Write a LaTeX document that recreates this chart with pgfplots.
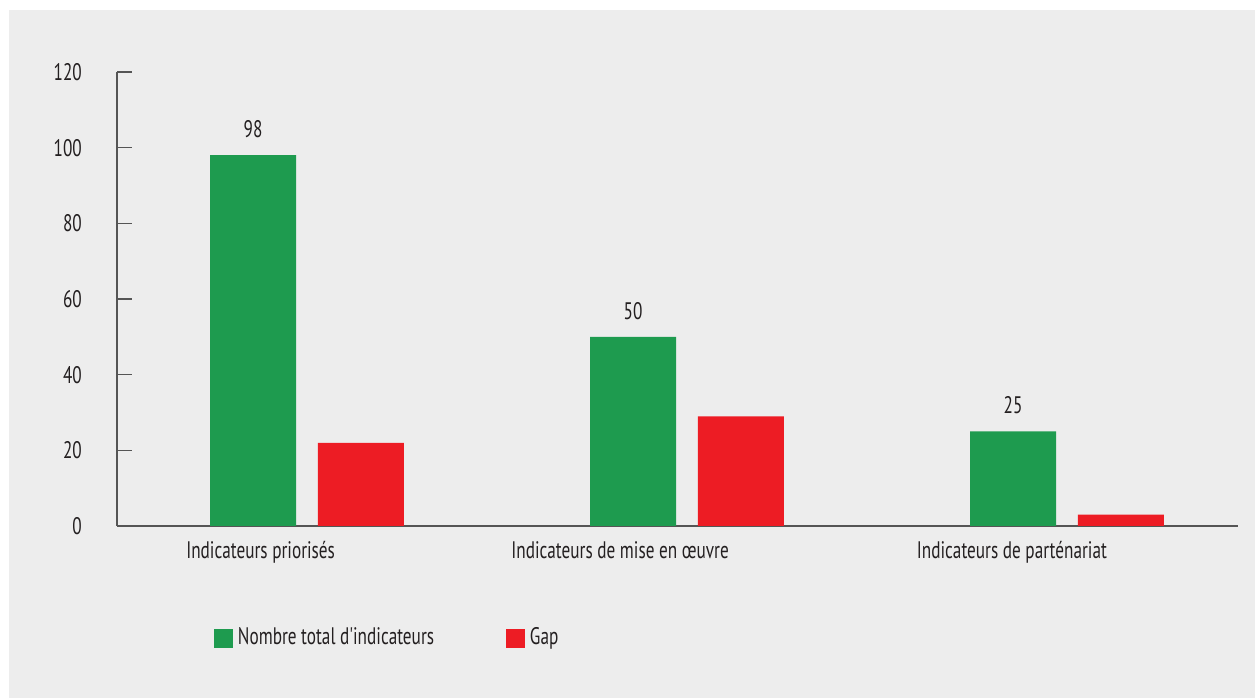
\documentclass[border=0pt]{standalone}
\usepackage{pgfplots}
\pgfplotsset{compat=1.18}
\usepackage{fontspec}
\setmainfont{PT Sans}[FakeStretch=0.72, Ligatures=TeXOff]
\definecolor{bggray}{HTML}{EDEDED}
\definecolor{bargreen}{HTML}{1E9B4F}
\definecolor{barred}{HTML}{ED1C24}
\definecolor{txt}{HTML}{231F20}
\definecolor{axcol}{HTML}{555555}
\begin{document}
\fontsize{24}{28}\selectfont
\begin{tikzpicture}
\path[use as bounding box] (0,0) rectangle (1255bp,698bp);
\fill[white] (0,0) rectangle (1255bp,698bp);
\fill[bggray] (9bp,0) rectangle (1255bp,688bp);
\begin{axis}[
  scale only axis,
  width=1121bp, height=454bp,
  at={(117bp,172bp)}, anchor=south west,
  xmin=-0.5, xmax=2.45, ymin=0, ymax=120,
  axis x line=bottom, axis y line=left,
  axis line style={-, draw=axcol, line width=1.3bp},
  ytick={0,20,...,120},
  tick align=inside,
  major tick length=15bp,
  ytick style={draw=axcol, line width=1.3bp},
  xtick={-0.122,0.824,1.855},
  xticklabels={Indicateurs priorisés, Indicateurs de mise en œuvre, Indicateurs de parténariat},
  xtick style={draw=none},
  xticklabel style={anchor=north, inner sep=0pt, yshift=0bp, text=txt},
  yticklabel style={anchor=east, inner sep=0pt, xshift=-35bp, text=txt},
  /pgf/number format/assume math mode=true,
  ybar, bar width=0.2263,
  legend columns=2,
  legend style={at={(0.0865,-0.2467)}, anchor=west, draw=none, fill=none, inner sep=0pt, outer sep=0pt,
    nodes={inner sep=0pt, text=txt},
    /tikz/every odd column/.append style={column sep=5bp}},
  legend image code/.code={\fill[#1] (0bp,-9.5bp) rectangle (19bp,9.5bp);},
]
\addplot[fill=bargreen, draw=none, bar shift=-0.142,
  nodes near coords, every node near coord/.append style={anchor=south, inner sep=0pt, yshift=17bp, text=txt}]
  coordinates {(0,98) (1,50) (2,25)};
\addplot[fill=barred, draw=none, bar shift=0.142]
  coordinates {(0,22) (1,29) (2,3)};
\legend{\makebox[268bp][l]{Nombre total d'indicateurs}, Gap}
\end{axis}
\end{tikzpicture}
\end{document}
